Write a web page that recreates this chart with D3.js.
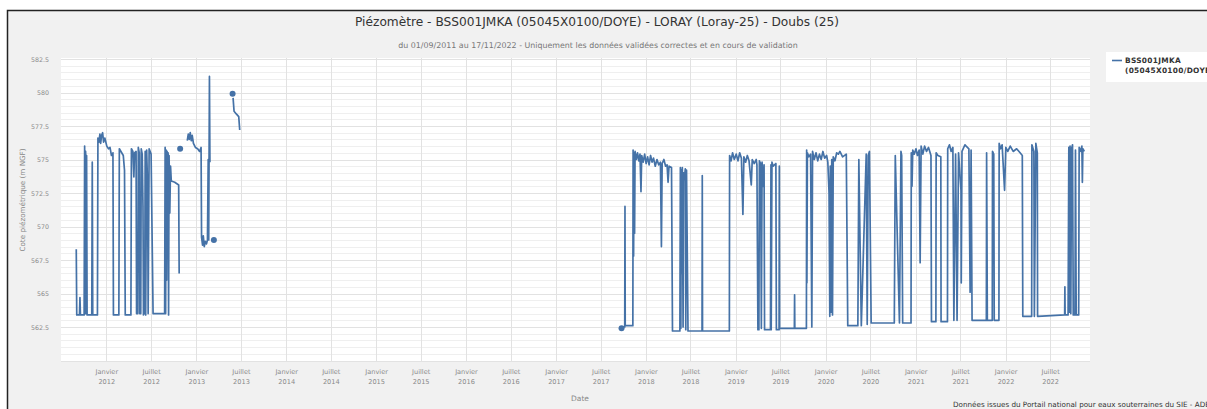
<!DOCTYPE html>
<html><head><meta charset="utf-8">
<script src="https://cdn.jsdelivr.net/npm/d3@7"></script>
<style>
html,body{margin:0;padding:0;background:#fff;overflow:hidden;}
svg{display:block;font-family:"DejaVu Sans",sans-serif;}
</style></head><body>
<svg id="chart" width="1207" height="409"></svg>
<script>
const title = "Piézomètre - BSS001JMKA (05045X0100/DOYE) - LORAY (Loray-25) - Doubs (25)";
const subtitle = "du 01/09/2011 au 17/11/2022 - Uniquement les données validées correctes et en cours de validation";
const yTitle = "Cote piézométrique (m NGF)";
const xTitle = "Date";
const legendLines = ["BSS001JMKA", "(05045X0100/DOYE)"];
const footer = "Données issues du Portail national pour eaux souterraines du SIE - ADES";
const yTicks = [562.5, 565, 567.5, 570, 572.5, 575, 577.5, 580, 582.5];
const monthNames = {0: "Janvier", 6: "Juillet"};

// first period (null = gap)
const dates1 = ["2011-09-01","2011-09-03","2011-09-14","2011-09-16","2011-09-18","2011-10-03","2011-10-05","2011-10-07","2011-10-09","2011-10-11","2011-10-13","2011-10-15","2011-11-03","2011-11-05","2011-11-07","2011-11-26","2011-11-28","2011-12-02","2011-12-06","2011-12-09","2011-12-13","2011-12-17","2011-12-21","2011-12-26","2012-01-03","2012-01-10","2012-01-16","2012-01-22","2012-01-28","2012-01-30","2012-02-21","2012-02-23","2012-03-10","2012-03-15","2012-03-18","2012-04-10","2012-04-12","2012-04-18","2012-04-22","2012-04-25","2012-05-01","2012-05-03","2012-05-08","2012-05-10","2012-05-14","2012-05-16","2012-05-20","2012-05-22","2012-05-26","2012-05-29","2012-05-31","2012-06-05","2012-06-07","2012-06-09","2012-06-13","2012-06-17","2012-06-19","2012-06-23","2012-07-01","2012-07-09","2012-08-25","2012-08-27","2012-08-29","2012-08-31","2012-09-02","2012-09-04","2012-09-06","2012-09-08","2012-09-10","2012-09-12","2012-09-15","2012-09-18","2012-09-21","2012-10-05","2012-10-21","2012-10-23","2012-10-25","2012-10-27","2012-10-30","2012-11-25","2012-11-29","2012-12-03","2012-12-07","2012-12-11","2012-12-15","2012-12-20","2012-12-28","2013-01-06","2013-01-14","2013-01-20","2013-01-22","2013-01-26","2013-01-29","2013-02-02","2013-02-06","2013-02-11","2013-02-15","2013-02-18","2013-02-20","2013-02-23","2013-02-25","2013-03-01","2013-03-13","2013-03-20","2013-05-28","2013-05-29","2013-05-30","2013-06-03","2013-06-12","2013-06-22","2013-06-26"];
const levels1 = [568.3,563.4,563.4,564.7,563.4,563.4,576.0,563.5,575.6,563.5,575.3,563.4,563.4,574.8,563.4,563.4,576.6,576.3,576.9,576.2,576.8,577.0,576.3,576.6,576.0,575.8,575.9,575.3,575.5,563.4,563.4,575.8,575.3,574.2,563.4,563.4,575.8,575.6,573.7,575.5,575.6,563.5,563.5,575.9,575.5,563.5,563.5,575.8,575.4,571.5,563.4,563.6,575.6,563.4,575.7,572.8,563.5,575.8,575.4,563.5,563.5,575.9,563.5,575.7,566.0,575.6,570.0,575.5,563.4,575.3,571.0,574.5,573.4,573.3,573.1,566.5,null,575.8,null,576.4,576.9,576.5,577.0,576.4,576.8,576.2,575.9,575.8,575.6,575.9,569.2,568.6,569.3,568.5,568.9,568.7,569.0,575.0,569.0,581.2,574.8,null,569.0,null,579.9,null,579.6,578.6,578.4,578.2,577.2];

// second period (null = gap)
const dates2 = ["2017-09-24","2017-09-26","2017-09-28","2017-10-07","2017-10-08","2017-10-09","2017-11-09","2017-11-10","2017-11-12","2017-11-14","2017-11-16","2017-11-18","2017-11-23","2017-11-28","2017-12-03","2017-12-08","2017-12-12","2017-12-15","2017-12-21","2017-12-27","2018-01-02","2018-01-08","2018-01-14","2018-01-20","2018-01-26","2018-02-01","2018-02-08","2018-02-15","2018-02-22","2018-03-01","2018-03-05","2018-03-08","2018-03-15","2018-03-22","2018-03-28","2018-04-01","2018-04-05","2018-04-15","2018-04-19","2018-05-19","2018-05-21","2018-05-23","2018-05-25","2018-05-27","2018-05-29","2018-06-01","2018-06-03","2018-06-06","2018-06-10","2018-06-12","2018-06-15","2018-06-21","2018-08-17","2018-08-18","2018-08-19","2018-12-06","2018-12-07","2018-12-13","2018-12-19","2018-12-26","2019-01-03","2019-01-10","2019-01-17","2019-01-24","2019-01-30","2019-02-03","2019-02-10","2019-02-17","2019-02-24","2019-03-05","2019-03-09","2019-03-17","2019-03-25","2019-03-28","2019-04-01","2019-04-05","2019-04-07","2019-04-12","2019-04-15","2019-04-18","2019-04-22","2019-04-26","2019-04-28","2019-05-22","2019-05-24","2019-05-25","2019-05-28","2019-06-02","2019-06-13","2019-06-15","2019-06-26","2019-06-27","2019-06-28","2019-08-27","2019-08-28","2019-08-29","2019-10-15","2019-10-16","2019-10-17","2019-10-19","2019-10-25","2019-11-01","2019-11-06","2019-11-09","2019-11-16","2019-11-23","2019-11-30","2019-12-07","2019-12-14","2019-12-21","2019-12-28","2020-01-05","2020-01-10","2020-01-15","2020-01-18","2020-01-20","2020-01-23","2020-01-26","2020-01-29","2020-02-01","2020-02-08","2020-02-15","2020-02-22","2020-02-28","2020-03-10","2020-03-25","2020-03-31","2020-05-11","2020-05-15","2020-05-25","2020-06-14","2020-06-18","2020-06-22","2020-06-27","2020-07-04","2020-10-06","2020-10-10","2020-10-27","2020-11-02","2020-11-05","2020-11-09","2020-12-13","2020-12-14","2020-12-17","2020-12-20","2020-12-26","2021-01-02","2021-01-08","2021-01-15","2021-01-19","2021-01-23","2021-01-30","2021-02-06","2021-02-14","2021-02-22","2021-03-04","2021-03-06","2021-03-24","2021-03-25","2021-04-01","2021-04-13","2021-04-14","2021-05-10","2021-05-11","2021-05-18","2021-05-25","2021-06-01","2021-06-05","2021-06-12","2021-06-18","2021-06-24","2021-07-04","2021-07-05","2021-07-08","2021-07-20","2021-07-25","2021-08-05","2021-08-10","2021-08-14","2021-08-18","2021-10-15","2021-10-16","2021-10-19","2021-11-08","2021-11-09","2021-11-14","2021-11-16","2021-12-05","2021-12-06","2021-12-12","2021-12-18","2021-12-28","2022-01-02","2022-01-10","2022-01-20","2022-02-01","2022-02-15","2022-03-01","2022-03-10","2022-03-12","2022-04-17","2022-04-18","2022-04-26","2022-04-28","2022-05-04","2022-05-10","2022-05-11","2022-08-29","2022-08-30","2022-08-31","2022-09-12","2022-09-15","2022-09-17","2022-09-20","2022-09-23","2022-09-26","2022-09-30","2022-10-03","2022-10-10","2022-10-12","2022-10-15","2022-10-25","2022-10-27","2022-11-03","2022-11-07","2022-11-09","2022-11-11","2022-11-17"];
const levels2 = [562.4,null,562.5,562.5,571.5,562.6,562.6,575.7,567.8,575.5,569.5,575.6,575.0,575.5,574.9,575.4,572.6,575.3,574.8,575.4,574.7,575.2,574.6,575.3,574.8,575.1,574.5,575.0,574.6,574.8,568.5,574.7,575.0,574.5,574.6,573.3,574.5,574.4,562.2,562.2,574.4,562.4,574.2,566.5,574.4,562.5,574.0,573.5,574.3,562.3,574.2,562.2,562.2,573.8,562.2,562.2,575.3,574.9,575.5,575.0,575.4,574.9,575.5,575.1,570.9,575.2,574.8,575.3,574.9,573.1,575.0,574.7,575.0,574.6,562.3,562.3,574.9,574.7,562.4,574.8,573.0,574.6,562.3,562.3,574.6,562.3,574.8,574.5,574.7,562.3,562.3,574.5,562.4,562.4,564.9,562.4,562.4,575.7,565.8,575.5,575.2,575.4,562.5,575.6,575.0,575.5,574.9,575.4,575.0,575.6,575.1,575.3,574.8,572.5,563.3,574.5,563.6,575.0,563.4,575.2,574.9,575.5,575.4,575.6,575.2,575.4,562.6,562.6,575.0,562.6,575.4,562.7,575.3,575.6,562.8,562.8,575.3,562.8,575.6,575.3,562.8,562.8,575.5,573.0,575.7,575.4,575.8,575.3,575.7,567.3,576.0,575.4,576.0,575.6,575.9,575.3,562.9,562.9,575.5,575.3,575.2,562.9,562.9,575.8,576.1,575.6,575.9,563.0,575.4,563.0,575.5,572.7,565.8,575.6,576.1,576.0,575.8,565.1,575.7,563.0,563.0,575.5,563.0,563.0,575.6,575.4,563.0,563.0,576.2,575.8,576.1,572.7,575.9,575.6,576.0,575.6,575.8,575.5,575.3,563.3,563.3,576.1,575.6,563.3,576.2,575.5,563.3,563.4,565.5,563.4,563.4,575.9,563.6,576.0,563.5,575.8,576.1,563.4,563.4,575.7,563.4,563.4,575.9,575.6,576.0,573.3,575.8,575.6];

const W = 1207, H = 409;
const plot = {left: 61, right: 1090, top: 58, bottom: 361};
const svg = d3.select("#chart");
const parse = d3.timeParse("%Y-%m-%d");

// frame
svg.append("rect").attr("x", 7.5).attr("y", 10.5).attr("width", W + 20).attr("height", H + 20)
  .attr("fill", "#f1f1f1").attr("stroke", "#222").attr("stroke-width", 1.5);

const x = d3.scaleTime().domain([parse("2011-07-01"), parse("2022-12-10")]).range([plot.left, plot.right]);
const y = d3.scaleLinear().domain([560, 582.5]).range([360.5, 59]);

svg.append("rect").attr("x", plot.left).attr("y", plot.top).attr("width", plot.right - plot.left)
  .attr("height", plot.bottom - plot.top).attr("fill", "#ffffff");

// minor horizontal grid
const minor = d3.range(560, 582.51, 0.5);
svg.append("g").selectAll("line").data(minor).join("line")
  .attr("x1", plot.left).attr("x2", plot.right)
  .attr("y1", d => Math.round(y(d)) + 0.5).attr("y2", d => Math.round(y(d)) + 0.5)
  .attr("stroke", "#efefef").attr("stroke-width", 1);
svg.append("g").selectAll("line").data(yTicks.concat([560])).join("line")
  .attr("x1", plot.left).attr("x2", plot.right)
  .attr("y1", d => Math.round(y(d)) + 0.5).attr("y2", d => Math.round(y(d)) + 0.5)
  .attr("stroke", "#e2e2e2").attr("stroke-width", 1);

const xTicks = d3.timeMonth.every(6).range(parse("2012-01-01"), parse("2022-12-01"));
svg.append("g").selectAll("line").data(xTicks).join("line")
  .attr("x1", d => Math.round(x(d)) + 0.5).attr("x2", d => Math.round(x(d)) + 0.5)
  .attr("y1", plot.top).attr("y2", plot.bottom)
  .attr("stroke", "#e2e2e2").attr("stroke-width", 1);

// axes labels
const yAxis = d3.axisLeft(y).tickValues(yTicks).tickSize(0).tickPadding(0).tickFormat(d3.format(""));
const gy = svg.append("g").attr("transform", `translate(49,0)`).call(yAxis);
gy.select(".domain").remove();
gy.selectAll("text").attr("fill", "#8a8a8a").attr("font-size", 6.3).attr("font-family", "DejaVu Sans");

const xAxis = d3.axisBottom(x).tickValues(xTicks).tickSize(0).tickFormat("");
const gx = svg.append("g").attr("transform", `translate(0,${plot.bottom})`).call(xAxis);
gx.select(".domain").remove();
gx.selectAll(".tick").each(function(d) {
  const t = d3.select(this).select("text").attr("fill", "#8a8a8a").attr("font-size", 6.6)
    .attr("font-family", "DejaVu Sans").attr("y", 8);
  t.append("tspan").attr("x", 0).attr("dy", "0.71em").text(monthNames[d.getMonth()]);
  t.append("tspan").attr("x", 0).attr("dy", "1.6em").text(d.getFullYear());
});

// series
function rows(ds, vs) { return ds.map((d, i) => ({t: parse(d), v: vs[i]})); }
const series = [rows(dates1, levels1), rows(dates2, levels2)];
const line = d3.line().defined(d => d.v != null).x(d => x(d.t)).y(d => y(d.v));
const gs = svg.append("g");
series.forEach(s => {
  gs.append("path").datum(s).attr("d", line).attr("fill", "none")
    .attr("stroke", "#4572A7").attr("stroke-width", 1.7).attr("stroke-linejoin", "round");
  const iso = s.filter((d, i) => d.v != null && (i === 0 || s[i-1].v == null) && (i === s.length - 1 || s[i+1].v == null));
  gs.selectAll(null).data(iso).join("circle").attr("cx", d => x(d.t)).attr("cy", d => y(d.v))
    .attr("r", 3).attr("fill", "#4572A7");
});

// titles
svg.append("text").attr("x", 597).attr("y", 26).attr("text-anchor", "middle")
  .attr("font-size", 12.2).attr("fill", "#333").text(title);
svg.append("text").attr("x", 598).attr("y", 48).attr("text-anchor", "middle")
  .attr("font-size", 7.9).attr("fill", "#777").text(subtitle);
svg.append("text").attr("transform", "translate(25,200) rotate(-90)").attr("text-anchor", "middle")
  .attr("font-size", 7.2).attr("fill", "#888").text(yTitle);
svg.append("text").attr("x", 580).attr("y", 401).attr("text-anchor", "middle")
  .attr("font-size", 7.5).attr("fill", "#888").text(xTitle);

// legend
svg.append("rect").attr("x", 1106).attr("y", 52).attr("width", 110).attr("height", 30).attr("fill", "#fff");
svg.append("line").attr("x1", 1112).attr("x2", 1122).attr("y1", 60.5).attr("y2", 60.5)
  .attr("stroke", "#4572A7").attr("stroke-width", 1.6);
svg.append("text").attr("x", 1125).attr("y", 63).attr("font-size", 7.4).attr("font-weight", "bold")
  .attr("fill", "#333").attr("letter-spacing", 0.3).selectAll("tspan").data(legendLines).join("tspan")
  .attr("x", 1125).attr("dy", (d, i) => i ? 10 : 0).text(d => d);

svg.append("text").attr("x", 953).attr("y", 407).attr("font-size", 7.2).attr("fill", "#333").text(footer);
</script></body></html>
